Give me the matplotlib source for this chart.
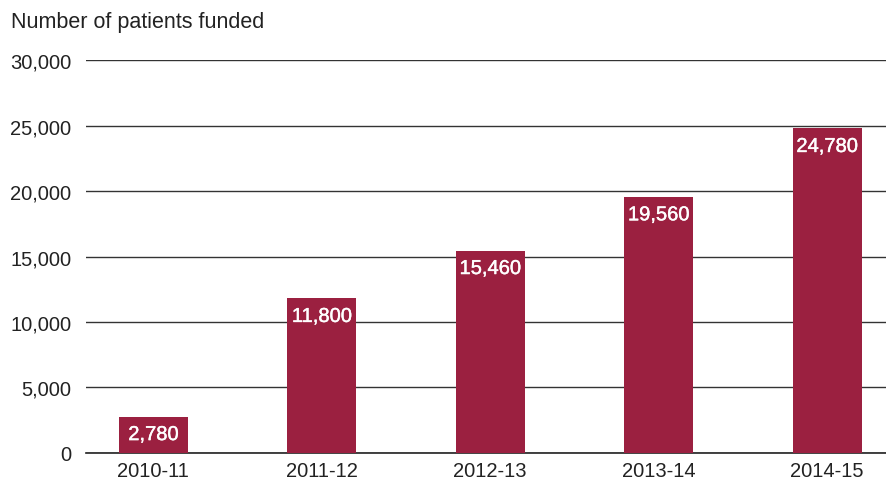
import matplotlib.pyplot as plt
import matplotlib.patheffects as pe

plt.rcParams['font.family'] = ['Liberation Sans', 'DejaVu Sans']

# patients funded per financial year
years = ['2010-11', '2011-12', '2012-13', '2013-14', '2014-15']
patients = [2780, 11800, 15460, 19560, 24780]

bar_color = '#9b2040'

fig = plt.figure(figsize=(8.86, 4.85), dpi=100)
ax = fig.add_axes([0.097, 0.064, 0.903, 0.810])

x = range(len(years))
bars = ax.bar(x, patients, width=0.41, color=bar_color, zorder=3)

# value labels inside the top of each bar, slightly heavier than normal
for b, v in zip(bars, patients):
    ax.text(b.get_x() + b.get_width() / 2, v - 650, f'{v:,}',
            ha='center', va='top', color='white', fontsize=14.5, zorder=4,
            path_effects=[pe.withStroke(linewidth=0.3, foreground='white')])

ax.set_ylim(0, 30000)
ax.set_xlim(-0.4, 4.35)
ax.set_yticks(range(0, 30001, 5000))
ax.set_yticklabels([f'{t:,}' for t in range(0, 30001, 5000)])
ax.set_xticks(list(x))
ax.set_xticklabels(years)

ax.yaxis.grid(True, color='#333333', linewidth=1.0, zorder=0)
ax.axhline(0, color='#222222', linewidth=1.2, zorder=2, clip_on=False)
ax.set_axisbelow(True)
for s in ax.spines.values():
    s.set_visible(False)
ax.tick_params(axis='both', length=0, labelsize=14.5, colors='#222222')
ax.tick_params(axis='y', pad=10.5)
ax.tick_params(axis='x', pad=6)

fig.text(0.012, 0.953, 'Number of patients funded', fontsize=15.5,
         color='#222222', va='center', ha='left')

fig.savefig('out.png', dpi=100)
